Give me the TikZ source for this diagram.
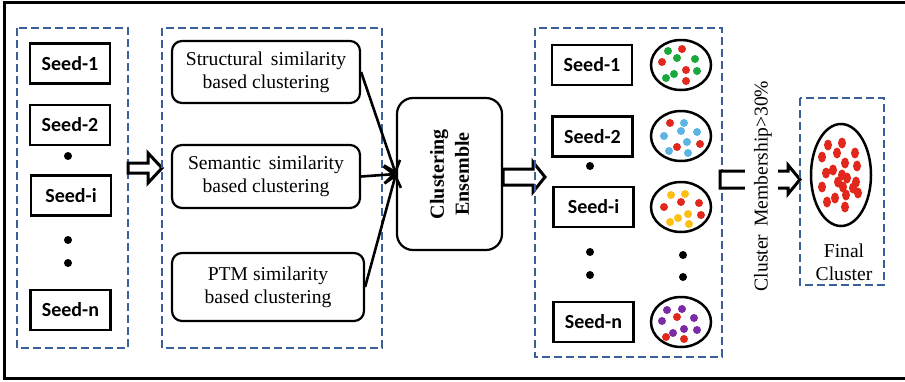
\documentclass[tikz,border=0pt]{standalone}
\usepackage{fontspec}
\setmainfont{Liberation Serif}
\newfontfamily\seedfont{Carlito}
\usetikzlibrary{shapes.geometric,arrows.meta}
\definecolor{dashblue}{HTML}{3A5F9A}
\definecolor{dotred}{HTML}{E2271C}
\definecolor{dotgreen}{HTML}{19A83C}
\definecolor{dotblue}{HTML}{5BB4E2}
\definecolor{dotyellow}{HTML}{FDBF12}
\definecolor{dotpurple}{HTML}{7B2CA5}
\newcommand\wordgap{\hspace{0.4em}}

\begin{document}
\begin{tikzpicture}[x=1pt,y=-1pt,
  group/.style={draw=dashblue,line width=2pt,dash pattern=on 8pt off 4pt},
  seedbox/.style={draw,line width=2.2pt,minimum width=80pt,minimum height=40pt,inner sep=0pt,
    font=\seedfont\bfseries\fontsize{20}{24}\selectfont},
  method/.style={draw,line width=2.2pt,rounded corners=10pt,align=center,inner sep=0pt,
    font=\fontsize{19.6}{23}\selectfont},
  bigdot/.style={circle,fill,inner sep=0pt,minimum size=8pt},
  cluster/.style={draw,ellipse,line width=2.5pt,inner sep=0pt},
  hollow/.style={draw,line width=3pt,fill=white,line join=miter},
  feed/.style={line width=2.6pt,-{Straight Barb[length=10pt,width=17pt]}},
  serif/.style={font=\fontsize{19.6}{23}\selectfont}
]
\useasboundingbox (0,0) rectangle (905,381);

% outer frame (open on the right)
\draw[line width=3pt] (910,2) -- (4,2) -- (4,378) -- (910,378);

% ---- seed list ----
\draw[group] (17,28) rectangle (128,348);
\node[seedbox] (s1) at (70,63.5) {Seed-1};
\node[seedbox] (s2) at (70,125) {Seed-2};
\node[bigdot]  (d1) at (68,156) {};
\node[seedbox] (si) at (71,195.5) {Seed-i};
\node[bigdot]  (d2) at (68,240) {};
\node[bigdot]  (d3) at (68,263) {};
\node[seedbox] (sn) at (70.5,310) {Seed-n};

% hollow arrow to the methods
\draw[hollow] (128,163) -- (148,163) -- (148,153) -- (162,168) -- (148,183) -- (148,173) -- (128,173) -- cycle;

% ---- clustering methods ----
\draw[group] (162,28) rectangle (382,348);
\node[method,minimum width=188pt,minimum height=62pt] (m1) at (266,72)
  {Structural\wordgap similarity\\based clustering};
\node[method,minimum width=188pt,minimum height=63pt] (m2) at (266,176.5)
  {Semantic\wordgap similarity\\based clustering};
\node[method,minimum width=192pt,minimum height=68pt] (m3) at (268,287)
  {PTM similarity\\based clustering};

% ---- ensemble ----
\node[method,minimum width=105pt,minimum height=152pt,rounded corners=16pt] (ens) at (449.5,174) {};
\node[rotate=90,align=center,font=\bfseries\fontsize{20}{25}\selectfont] (enslabel) at (ens.center)
  {Clustering\\Ensemble};
\draw[feed] (m1.east) -- (ens.west);
\draw[feed] (m2.east) -- (ens.west);
\draw[feed] (m3.east) -- (ens.west);

\draw[hollow] (503,169) -- (533,169) -- (533,162) -- (545,177) -- (533,192) -- (533,185) -- (503,185) -- cycle;

% ---- seeds with their clusters ----
\draw[group] (535,28) rectangle (722,357);
\node[seedbox] (t1) at (592,65) {Seed-1};
\node[seedbox] (t2) at (592.5,136.5) {Seed-2};
\node[bigdot]  (u1) at (590,166) {};
\node[seedbox] (ti) at (593.5,207) {Seed-i};
\node[bigdot]  (u2) at (590,252) {};
\node[bigdot]  (u3) at (590,275) {};
\node[seedbox] (tn) at (593.5,322) {Seed-n};

\node[cluster,minimum width=60pt,minimum height=50pt] (c1) at (681,65) {};
\node[cluster,minimum width=60pt,minimum height=50pt] (c2) at (681,136) {};
\node[cluster,minimum width=60pt,minimum height=50pt] (c3) at (681,207) {};
\node[cluster,minimum width=60pt,minimum height=50pt] (c4) at (681,322) {};
\node[bigdot] (v1) at (683,255) {};
\node[bigdot] (v2) at (683,277) {};

\begin{scope}[shift={(c1.center)}]
  \foreach \p in {(-13,-14),(-4,-7),(14,-6),(16,6),(-7,9),(-15,13)}
    \fill[dotgreen] \p circle (4pt);
  \foreach \p in {(1,-16),(-19,-3),(5,5),(5,16)}
    \fill[dotred] \p circle (4pt);
\end{scope}
\begin{scope}[shift={(c2.center)}]
  \foreach \p in {(3,-13),(0,-5),(16,-4),(-17,0),(6,6),(-12,15),(7,17)}
    \fill[dotblue] \p circle (4pt);
  \foreach \p in {(-11,-13),(-4,11),(19,8)}
    \fill[dotred] \p circle (4pt);
\end{scope}
\begin{scope}[shift={(c3.center)}]
  \foreach \p in {(-10,-12),(4,-13),(7,7),(-3,11),(-11,15),(8,17)}
    \fill[dotyellow] \p circle (4pt);
  \foreach \p in {(-17,0),(0,-5),(18,-4),(20,8)}
    \fill[dotred] \p circle (4pt);
\end{scope}
\begin{scope}[shift={(c4.center)}]
  \foreach \p in {(-14,-12),(1,-13),(13,-4),(-19,-1),(3,7),(16,8),(-8,11)}
    \fill[dotpurple] \p circle (4pt);
  \foreach \p in {(-4,-5),(-15,15),(3,17)}
    \fill[dotred] \p circle (4pt);
\end{scope}

% ---- membership filter ----
\draw[hollow] (720,171) -- (788,171) -- (788,165) -- (800,179.5) -- (788,194) -- (788,188) -- (720,188) -- cycle;
\fill[white] (745,166) rectangle (778,192);
\node[rotate=90,inner sep=2pt,serif] (crit) at (763,186)
  {Cluster\wordgap Membership>30\%};

% ---- final cluster ----
\draw[group] (800,98) rectangle (884,285);
\node[cluster,minimum width=60pt,minimum height=102pt] (fin) at (841,175) {};
\begin{scope}[shift={(fin.center)}]
  \foreach \p in {(-13,-30),(1,-32),(-4,-22),(-19,-18),(14,-22),(4,-12),(16,-9),(-8,-5),
                  (-15,-2),(1,0),(6,3),(-3,7),(15,7),(-19,12),(2,12),(17,18),(-6,23),
                  (-14,27),(5,20),(4,32),(12,13)}
    \fill[dotred] \p ellipse [x radius=4pt,y radius=5.5pt];
\end{scope}
\node[serif,align=center,inner sep=0pt] (fclabel) at (844,262) {Final\\Cluster};

\end{tikzpicture}
\end{document}
